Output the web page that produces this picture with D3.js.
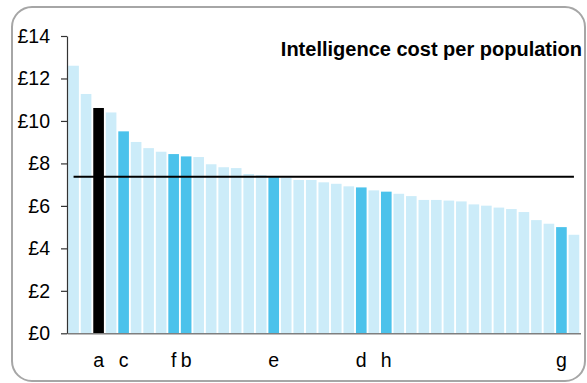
<!DOCTYPE html>
<html>
<head>
<meta charset="utf-8">
<script src="https://cdn.jsdelivr.net/npm/d3@7"></script>
<style>
  html, body { margin: 0; padding: 0; background: #fff; }
  svg { display: block; font-family: "Liberation Sans", Arial, sans-serif; }
</style>
</head>
<body>
<svg id="chart" width="587" height="383"></svg>
<script>
// Cost per head of population, one bar per force, sorted high to low
const costs = [12.6, 11.27, 10.61, 10.4, 9.51, 9.01, 8.72, 8.55, 8.44, 8.33, 8.30,
  7.96, 7.82, 7.78, 7.50, 7.45, 7.35, 7.33, 7.22, 7.22, 7.11, 7.04, 6.92, 6.87,
  6.73, 6.67, 6.57, 6.46, 6.28, 6.28, 6.25, 6.21, 6.07, 6.01, 5.92, 5.85, 5.71,
  5.33, 5.16, 5.00, 4.64];
// Named forces shown under the axis (blank = unnamed)
const forceLabels = ["", "", "a", "", "c", "", "", "", "f", "b", "", "", "", "", "", "",
  "e", "", "", "", "", "", "", "d", "", "h", "", "", "", "", "", "", "", "", "", "",
  "", "", "", "g", ""];
const focusForce = "a";
const averageCost = 7.37;
const yTicks = [0, 2, 4, 6, 8, 10, 12, 14];
const title = "Intelligence cost per population";

const svg = d3.select("#chart");

// rounded frame
svg.append("rect")
  .attr("x", 12).attr("y", 7)
  .attr("width", 573).attr("height", 374)
  .attr("rx", 20).attr("ry", 20)
  .attr("fill", "#fff")
  .attr("stroke", "#a6a6a6")
  .attr("stroke-width", 2);

const x = d3.scaleBand()
  .domain(d3.range(costs.length))
  .range([67, 580.5])
  .paddingInner(0.15)
  .paddingOuter(0.1);

const y = d3.scaleLinear()
  .domain([0, 14])
  .range([333.3, 36]);

const colour = i => forceLabels[i] === focusForce ? "#000000"
  : (forceLabels[i] ? "#4bc2eb" : "#ccecf9");

svg.append("g")
  .selectAll("rect")
  .data(costs)
  .join("rect")
  .attr("x", (d, i) => x(i))
  .attr("y", d => y(d))
  .attr("width", x.bandwidth())
  .attr("height", d => y(0) - y(d))
  .attr("fill", (d, i) => colour(i));

// x baseline with force labels
const xAxis = svg.append("g")
  .attr("transform", `translate(0,${y(0)})`)
  .call(d3.axisBottom(x).tickSize(0).tickPadding(20)
    .tickFormat(i => forceLabels[i]));
xAxis.select(".domain").attr("stroke", "#7f7f7f").attr("stroke-width", 1.5);
xAxis.selectAll("text").attr("font-size", 19.5).attr("fill", "#000")
  .attr("font-family", "'Liberation Sans', Arial, sans-serif");

// y axis
const yAxis = svg.append("g")
  .attr("transform", "translate(67,0)")
  .call(d3.axisLeft(y).tickValues(yTicks).tickSize(6).tickSizeOuter(0)
    .tickPadding(11).tickFormat(d => "£" + d));
yAxis.selectAll("path, line").attr("stroke", "#333").attr("stroke-width", 1.2);
yAxis.selectAll("text").attr("font-size", 19.5).attr("fill", "#000")
  .attr("font-family", "'Liberation Sans', Arial, sans-serif");

// average line across the forces
const line = d3.line()
  .x(i => x(i) + x.bandwidth() / 2)
  .y(() => y(averageCost));
svg.append("path")
  .datum([0, costs.length - 1])
  .attr("d", line)
  .attr("stroke", "#000")
  .attr("stroke-width", 2)
  .attr("fill", "none");

svg.append("text")
  .attr("x", 582).attr("y", 56)
  .attr("text-anchor", "end")
  .attr("font-size", 20)
  .attr("font-weight", "bold")
  .attr("fill", "#000")
  .text(title);
</script>
</body>
</html>
